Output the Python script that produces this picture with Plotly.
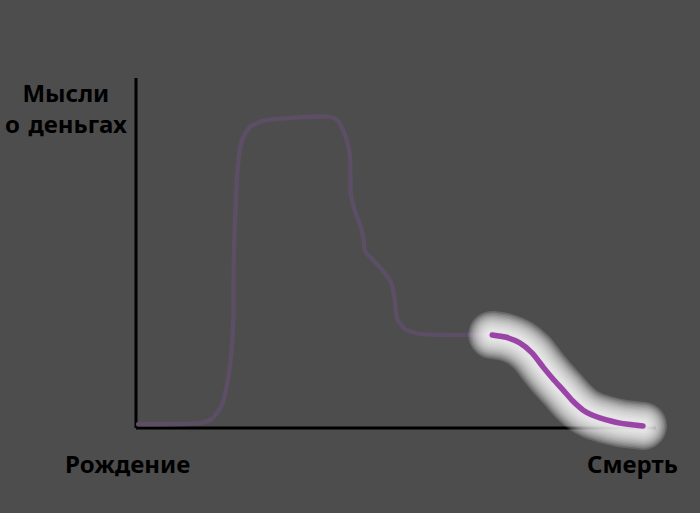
import plotly.graph_objects as go

# Life timeline (0 = birth, 100 = death) vs. thoughts about money (0..100)
life_x = [0.4, 12.3, 14.6, 16.5, 17.5, 18.3, 18.7, 18.8, 19.2, 19.6, 20.4, 21.9, 24.2, 29.6,
          37.3, 38.7, 39.8, 40.8, 41.2, 41.3, 41.9, 43.3, 43.8, 44.0, 45.4, 47.5, 49.2, 49.8,
          50.2, 51.7, 54.6, 60.0, 68.5]
life_y = [1.1, 1.4, 2.6, 6.6, 12.3, 20.9, 30.9, 48.0, 65.1, 75.1, 82.3, 86.0, 87.7, 88.6,
          88.9, 88.0, 85.1, 80.9, 76.6, 67.1, 62.9, 57.1, 53.4, 50.6, 48.3, 44.9, 41.1, 36.3,
          31.4, 28.3, 26.9, 26.6, 26.6]

end_x = [68.5, 71.0, 73.8, 76.2, 78.3, 80.2, 82.1, 84.0, 86.0, 87.7, 89.2, 93.1, 97.5]
end_y = [26.6, 26.0, 24.3, 21.4, 17.4, 14.0, 10.9, 7.7, 5.1, 3.7, 2.9, 1.4, 0.6]

y_title = "Мысли<br>о деньгах"
x_start = "Рождение"
x_end = "Смерть"

BG = "#4d4d4d"
DIM = "#5b4e65"
BRIGHT = "#9b44a8"
FONT = "Comic Sans MS, Comic Neue, Noto Sans, sans-serif"

# plot area covers the whole figure; axis origin at (136, 428) px, 5.2 px/unit in x, 3.5 px/unit in y
W, H = 700, 513
OX, OY, SX, SY = 136, 428, 5.2, 3.5
x_range = [-OX / SX, (W - OX) / SX]
y_range = [-(H - OY) / SY, OY / SY]

fig = go.Figure()

fig.add_trace(go.Scatter(x=life_x, y=life_y, mode="lines",
                         line=dict(color=DIM, width=4.5, shape="spline", smoothing=0.6),
                         hoverinfo="skip", showlegend=False))

# glow: many stacked translucent white strokes
glow_widths = [48, 45, 42, 39, 36, 33, 30, 27, 24, 21, 18, 15, 12]
for w in glow_widths:
    fig.add_trace(go.Scatter(x=end_x, y=end_y, mode="lines",
                             line=dict(color="white", width=w, shape="spline", smoothing=0.6),
                             opacity=0.14, hoverinfo="skip", showlegend=False))

fig.add_trace(go.Scatter(x=end_x, y=end_y, mode="lines",
                         line=dict(color=BRIGHT, width=5.5, shape="spline", smoothing=0.6),
                         hoverinfo="skip", showlegend=False))

axis_style = dict(showgrid=False, zeroline=False, showticklabels=False, ticks="",
                  showline=False, fixedrange=True)

fig.update_layout(
    width=W, height=H,
    margin=dict(l=0, r=0, t=0, b=0),
    paper_bgcolor=BG, plot_bgcolor=BG,
    font=dict(family=FONT, color="black", size=24),
    xaxis=dict(domain=[0, 1], range=x_range, **axis_style),
    yaxis=dict(domain=[0, 1], range=y_range, **axis_style),
    shapes=[
        dict(type="line", xref="x", yref="y", x0=0, y0=0, x1=0, y1=100, layer="below",
             line=dict(color="black", width=3)),
        dict(type="line", xref="x", yref="y", x0=0, y0=0, x1=100, y1=0, layer="below",
             line=dict(color="black", width=3)),
    ],
    annotations=[
        dict(text=f"<b>{y_title}</b>", xref="paper", yref="paper", x=66 / W, y=1 - 109 / H,
             showarrow=False, xanchor="center", yanchor="middle", align="center"),
        dict(text=f"<b>{x_start}</b>", xref="paper", yref="paper", x=127 / W, y=1 - 465 / H,
             showarrow=False, xanchor="center", yanchor="middle"),
        dict(text=f"<b>{x_end}</b>", xref="paper", yref="paper", x=632 / W, y=1 - 465 / H,
             showarrow=False, xanchor="center", yanchor="middle"),
    ],
)

fig.write_html(
    "out.html",
    config={"displayModeBar": False},
    post_script=(
        "document.body.style.margin='0';document.body.style.background='#4d4d4d';"
        "document.querySelectorAll('.scatterlayer .js-line').forEach(function(p){"
        "p.style.strokeLinecap='round';p.style.strokeLinejoin='round';});"
    ),
)
